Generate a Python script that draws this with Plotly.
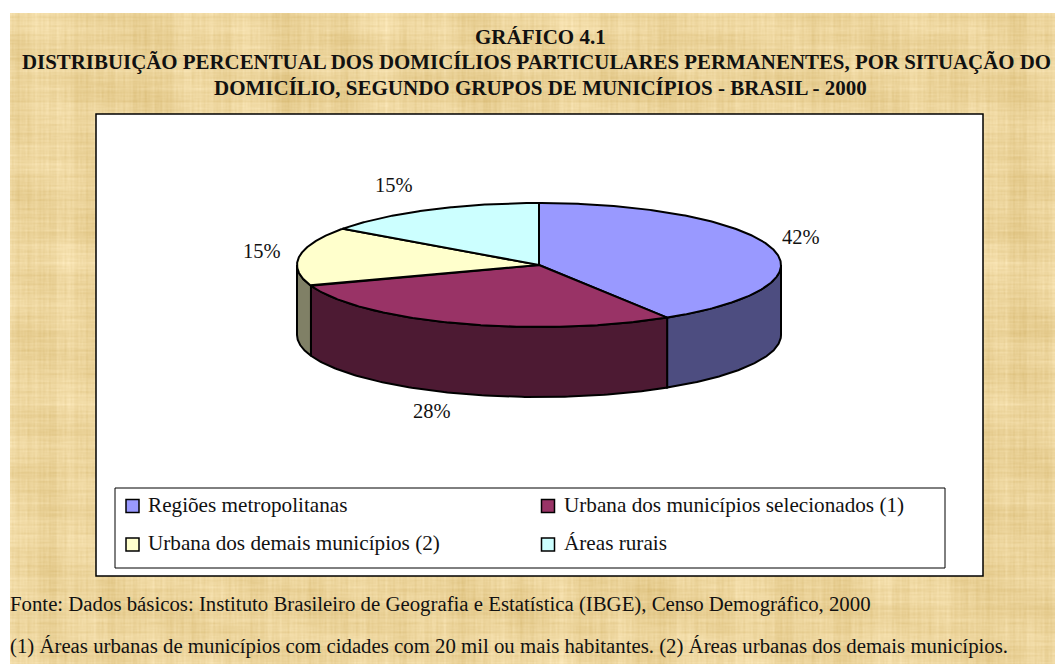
import base64, struct, zlib
import numpy as np
import plotly.graph_objects as go

categories = ["Regiões metropolitanas", "Urbana dos municípios selecionados (1)",
              "Urbana dos demais municípios (2)", "Áreas rurais"]
values = [42, 28, 15, 15]
top_colors = ["#9999FF", "#993366", "#FFFFCC", "#CCFFFF"]
side_colors = ["#4D4D80", "#4D1A33", "#808066", "#668080"]
title_lines = ["GRÁFICO 4.1",
               "DISTRIBUIÇÃO PERCENTUAL DOS DOMICÍLIOS PARTICULARES PERMANENTES, POR SITUAÇÃO DO",
               "DOMICÍLIO, SEGUNDO GRUPOS DE MUNICÍPIOS - BRASIL - 2000"]
footer_lines = ["Fonte: Dados básicos: Instituto Brasileiro de Geografia e Estatística (IBGE), Censo Demográfico, 2000",
                "(1) Áreas urbanas de municípios com cidades com 20 mil ou mais habitantes. (2) Áreas urbanas dos demais municípios."]

W, H = 1055, 664
CX, CY, RX, RY, DEPTH = 539, 265, 242, 62, 70
SERIF = "Liberation Serif"


def texture(w, h):
    xx = np.arange(w)[None, :].astype(float)
    yy = np.arange(h)[:, None].astype(float)
    v = np.zeros((h, w))
    # vertical fibres, patchy along their length
    for p, a, ph in [(173, 3, 0.3), (61, 2.5, 1.1), (29.3, 2.5, 2.3), (11.7, 3, 0.7), (5.3, 3, 1.9), (3.1, 2, 0.4)]:
        env = 0.6 + 0.5 * np.sin(2 * np.pi * yy / (p * 5.3) + ph * 3) * np.sin(2 * np.pi * xx / (p * 7.1) + ph)
        v = v + a * np.sin(2 * np.pi * xx / p + ph) * env
    # horizontal fibres, patchy along their length
    for p, a, ph in [(131, 3, 1.7), (47, 2.5, 0.2), (19.7, 2.5, 2.9), (8.3, 3, 1.3), (4.7, 3, 0.5), (2.9, 2, 2.2)]:
        env = 0.6 + 0.5 * np.sin(2 * np.pi * xx / (p * 6.1) + ph * 2) * np.sin(2 * np.pi * yy / (p * 4.3) + ph)
        v = v + a * np.sin(2 * np.pi * yy / p + ph) * env
    # broad blotches
    v = v + 5 * np.sin(2 * np.pi * (xx / 211 + yy / 157)) * np.sin(2 * np.pi * (xx / 97 - yy / 133))
    base = np.array([236.0, 212.0, 155.0])
    gain = np.array([0.8, 1.05, 1.6])
    rgb = np.clip(base[None, None, :] + v[:, :, None] * gain[None, None, :], 0, 255).astype(np.uint8)
    raw = b"".join(b"\x00" + rgb[i].tobytes() for i in range(h))

    def chunk(tag, data):
        return struct.pack(">I", len(data)) + tag + data + struct.pack(">I", zlib.crc32(tag + data) & 0xFFFFFFFF)

    png = b"\x89PNG\r\n\x1a\n" + chunk(b"IHDR", struct.pack(">IIBBBBB", w, h, 8, 2, 0, 0, 0)) \
        + chunk(b"IDAT", zlib.compress(raw, 9)) + chunk(b"IEND", b"")
    return "data:image/png;base64," + base64.b64encode(png).decode()


def ellipse(t):
    return CX + RX * np.sin(t), CY - RY * np.cos(t)


fig = go.Figure()
raw_edges = np.concatenate([[0], np.cumsum(values)]) / sum(values) * 2 * np.pi
# slight viewing-angle correction of the tilted pie
edges = raw_edges - np.radians(3.6) * ((1 - np.cos(raw_edges)) / 2) ** 2

# chart frame and legend frame
shapes = [
    dict(type="rect", x0=96, y0=114, x1=983, y1=576, fillcolor="white", line=dict(color="black", width=1.5), layer="between"),
    dict(type="rect", x0=115, y0=488, x1=945, y1=568, fillcolor="white", line=dict(color="black", width=1), layer="between"),
]

# side walls
for i in range(len(values)):
    a = max(edges[i], np.pi / 2)
    b = min(edges[i + 1], 3 * np.pi / 2)
    if b <= a:
        continue
    t = np.linspace(a, b, 120)
    x, y = ellipse(t)
    fig.add_trace(go.Scatter(
        x=np.concatenate([x, x[::-1], x[:1]]),
        y=np.concatenate([y, y[::-1] + DEPTH, y[:1]]),
        mode="lines", fill="toself", fillcolor=side_colors[i],
        line=dict(color="black", width=2), name=categories[i] + " (lateral)",
        showlegend=False, hoverinfo="skip"))

# top faces
for i in range(len(values)):
    t = np.linspace(edges[i], edges[i + 1], 240)
    x, y = ellipse(t)
    fig.add_trace(go.Scatter(
        x=np.concatenate([[CX], x, [CX]]),
        y=np.concatenate([[CY], y, [CY]]),
        mode="lines", fill="toself", fillcolor=top_colors[i],
        line=dict(color="black", width=2), name=categories[i],
        showlegend=False, hoverinfo="text", text=f"{categories[i]}: {values[i]}%"))

# legend swatches
swatch_x = [132.5, 548, 132.5, 548]
swatch_y = [506, 506, 544.5, 544.5]
text_x = [146, 562, 146, 562]
fig.add_trace(go.Scatter(
    x=swatch_x, y=swatch_y, mode="markers",
    marker=dict(symbol="square", size=13, color=top_colors, line=dict(color="black", width=1.5)),
    showlegend=False, hoverinfo="skip"))

ann = []
for line, yy, size, lx, anchor in zip(title_lines, [37, 62, 88], [21, 20.9, 21], [540, 20, 540], ["center", "left", "center"]):
    ann.append(dict(x=lx, y=yy, text=line, showarrow=False, xanchor=anchor, yanchor="middle",
                    font=dict(family=SERIF, size=size, color="#111", weight="bold")))
for v, lx, ly in zip(values, [801, 432, 262, 394], [237, 411, 251, 185]):
    ann.append(dict(x=lx, y=ly, text=f"{v}%", showarrow=False, xanchor="center", yanchor="middle",
                    font=dict(family=SERIF, size=20.5, color="#111")))
for c, lx, ly in zip(categories, text_x, swatch_y):
    ann.append(dict(x=lx, y=ly - 1.5, text=c, showarrow=False, xanchor="left", yanchor="middle",
                    font=dict(family=SERIF, size=21.2, color="#111")))
for line, yy in zip(footer_lines, [604, 646]):
    ann.append(dict(x=8, y=yy, text=line, showarrow=False, xanchor="left", yanchor="middle",
                    font=dict(family=SERIF, size=20.8, color="#111")))

fig.update_layout(
    width=W, height=H, margin=dict(l=0, r=0, t=0, b=0),
    paper_bgcolor="white", plot_bgcolor="rgba(0,0,0,0)",
    xaxis=dict(range=[0, W], visible=False, fixedrange=True),
    yaxis=dict(range=[H, 0], visible=False, fixedrange=True),
    shapes=shapes, annotations=ann, showlegend=False,
    images=[dict(source=texture(W - 10, H - 13), xref="x", yref="y", x=10, y=13,
                 sizex=W - 10, sizey=H - 13, sizing="stretch", layer="below", xanchor="left", yanchor="top")],
)
fig.write_html("out.html", config=dict(displayModeBar=False),
               post_script="document.body.style.margin='0';document.body.style.overflow='hidden';")
